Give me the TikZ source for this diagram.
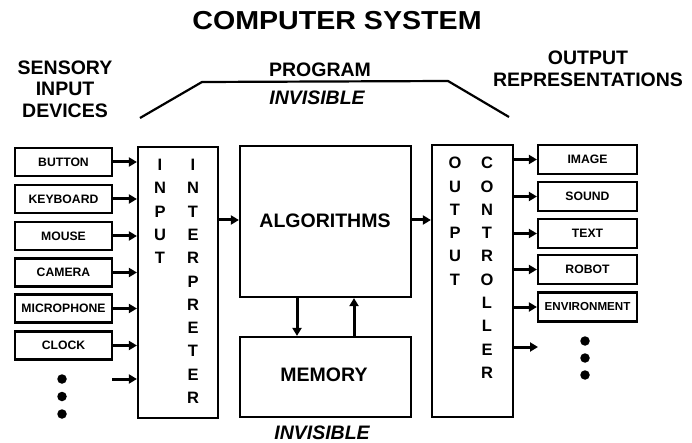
\documentclass[tikz,border=0pt]{standalone}
\usepackage{fontspec}
\setmainfont{Liberation Sans}
\usetikzlibrary{arrows.meta}
\tikzset{
  devbox/.style={draw, line width=2.2pt, minimum width=97pt, minimum height=28pt, inner sep=0pt, font=\bfseries\fontsize{12.2}{14}\selectfont},
  outbox/.style={draw, line width=2.2pt, minimum width=99pt, minimum height=29pt, inner sep=0pt, font=\bfseries\fontsize{12.2}{14}\selectfont},
  bigbox/.style={draw, line width=2.2pt, inner sep=0pt},
  biglabel/.style={font=\bfseries\fontsize{19.5}{22}\selectfont, align=center, inner sep=0pt},
  vletters/.style={font=\bfseries\fontsize{16.5}{23.3}\selectfont, align=center, anchor=north, inner sep=0pt},
  arr/.style={line width=3pt, -{Triangle[length=8pt,width=9pt]}},
  dot/.style={fill, circle, inner sep=0pt, minimum size=9.5pt},
}
\begin{document}
\begin{tikzpicture}[x=1pt, y=-1pt]
\useasboundingbox (0,0) rectangle (692,443);
% titles
\node[biglabel, font=\bfseries\fontsize{26}{28}\selectfont, xscale=1.1] (title) at (337,21) {COMPUTER SYSTEM};
\node[biglabel, font=\bfseries\fontsize{19.5}{21.5}\selectfont] (sens) at (65,89) {SENSORY\\INPUT\\DEVICES};
\node[biglabel] (prog) at (320,70) {PROGRAM};
\node[biglabel, font=\bfseries\itshape\fontsize{19.5}{22}\selectfont] (inv1) at (317,98) {INVISIBLE};
\node[biglabel, font=\bfseries\fontsize{19.5}{21.5}\selectfont] (outrep) at (588,69) {OUTPUT\\REPRESENTATIONS};
\node[biglabel, font=\bfseries\itshape\fontsize{19.5}{22}\selectfont] (inv2) at (322,433) {INVISIBLE};
% program bracket line
\coordinate (p1) at (140,118);
\coordinate (p2) at (202,82);
\coordinate (p3) at (448,81);
\coordinate (p4) at (509,117);
\draw[line width=2.2pt] (p1) -- (p2) -- (p3) -- (p4);
% input devices
\node[devbox] (b1) at (63.5,162) {BUTTON};
\node[devbox] (b2) at (63.5,199) {KEYBOARD};
\node[devbox] (b3) at (63.5,236) {MOUSE};
\node[devbox] (b4) at (63.5,272.5) {CAMERA};
\node[devbox] (b5) at (63.5,308.5) {MICROPHONE};
\node[devbox] (b6) at (63.5,345.5) {CLOCK};
\node[dot] (ld1) at (62,379) {};
\node[dot] (ld2) at (62,396.5) {};
\node[dot] (ld3) at (62,414) {};
% input interpreter
\node[bigbox, minimum width=80pt, minimum height=271pt] (interp) at (178,282.5) {};
\node[vletters] (inputtxt) at (160,159) {I\\N\\P\\U\\T};
\node[vletters] (interptxt) at (193,159) {I\\N\\T\\E\\R\\P\\R\\E\\T\\E\\R};
\foreach \b in {b1,b2,b3,b4,b5,b6}
  \draw[arr] (\b.east) -- (\b.east -| interp.west);
\coordinate (inext) at (112,379);
\draw[arr] (inext) -- (inext -| interp.west);
% algorithms and memory
\node[bigbox, minimum width=171pt, minimum height=151pt] (algo) at (325.5,221.5) {};
\node[biglabel] (algotxt) at (325,221) {ALGORITHMS};
\node[bigbox, minimum width=171pt, minimum height=80pt] (mem) at (325.5,377) {};
\node[biglabel] (memtxt) at (324,375) {MEMORY};
\coordinate (ia) at (218,220);
\draw[arr] (ia) -- (ia -| algo.west);
\coordinate (dn) at (297,297);
\draw[arr] (dn) -- (dn |- mem.north);
\coordinate (up) at (354,337);
\draw[arr] (up) -- (up |- algo.south);
% output controller
\node[bigbox, minimum width=81pt, minimum height=272pt] (outc) at (472.5,281) {};
\node[vletters] (outtxt) at (455,157) {O\\U\\T\\P\\U\\T};
\node[vletters] (ctrltxt) at (487,157) {C\\O\\N\\T\\R\\O\\L\\L\\E\\R};
\coordinate (ao) at (411,220);
\draw[arr] (ao) -- (ao -| outc.west);
% output representations
\node[outbox] (o1) at (587.5,159.5) {IMAGE};
\node[outbox] (o2) at (587.5,196.5) {SOUND};
\node[outbox] (o3) at (587.5,233.5) {TEXT};
\node[outbox] (o4) at (587.5,269.5) {ROBOT};
\node[outbox, font=\bfseries\fontsize{11.6}{14}\selectfont] (o5) at (587.5,307) {ENVIRONMENT};
\foreach \o in {o1,o2,o3,o4,o5}
  \draw[arr] (\o.west -| outc.east) -- (\o.west);
\coordinate (onext) at (538,347);
\draw[arr] (onext -| outc.east) -- (onext);
\node[dot] (rd1) at (585,341) {};
\node[dot] (rd2) at (585,358) {};
\node[dot] (rd3) at (585,375) {};
\end{tikzpicture}
\end{document}
